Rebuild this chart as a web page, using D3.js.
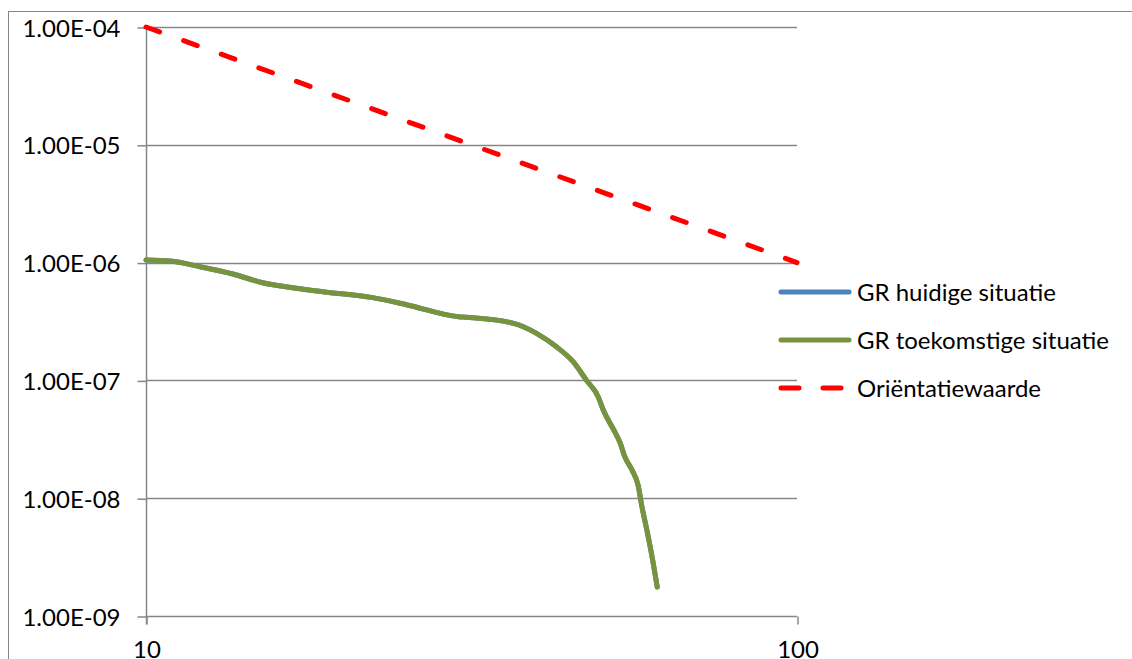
<!DOCTYPE html>
<html>
<head>
<meta charset="utf-8">
<script src="https://cdn.jsdelivr.net/npm/d3@7"></script>
<style>
  html, body { margin: 0; padding: 0; background: #fff; }
  svg { display: block; }
  text { font-family: Lato, "Open Sans", sans-serif; fill: #000; }
</style>
</head>
<body>
<svg id="chart" width="1132" height="659"></svg>
<script>
// ---- data ----
const xTickValues = [10, 100];
const xTickLabels = ["10", "100"];
const yTickValues = [1e-4, 1e-5, 1e-6, 1e-7, 1e-8, 1e-9];
const yTickLabels = ["1.00E-04", "1.00E-05", "1.00E-06", "1.00E-07", "1.00E-08", "1.00E-09"];

const seriesNames = ["GR huidige situatie", "GR toekomstige situatie", "Oriëntatiewaarde"];
const seriesColors = ["#4F81BD", "#77933C", "#FF0000"];

const grX = [10, 10.9, 12.1, 13.6, 15.1, 16.6, 18.7, 22.3, 25.2, 30.2, 31.1, 36.7, 39.8, 42.7, 45.3, 47.5, 49.5, 50.4, 52.5, 53.5, 54.4, 55.8, 57.0, 57.8, 58.8, 59.9, 61.0];
const grHuidig = [1.05e-6, 1.03e-6, 9.23e-7, 8.0e-7, 6.75e-7, 6.17e-7, 5.66e-7, 5.04e-7, 4.37e-7, 3.47e-7, 3.43e-7, 3.05e-7, 2.51e-7, 1.93e-7, 1.44e-7, 1.0e-7, 7.28e-8, 5.6e-8, 3.65e-8, 2.94e-8, 2.24e-8, 1.73e-8, 1.29e-8, 8.4e-9, 5.37e-9, 3.17e-9, 1.76e-9];
const grToekomst = [1.05e-6, 1.03e-6, 9.23e-7, 8.0e-7, 6.75e-7, 6.17e-7, 5.66e-7, 5.04e-7, 4.37e-7, 3.47e-7, 3.43e-7, 3.05e-7, 2.51e-7, 1.93e-7, 1.44e-7, 1.0e-7, 7.28e-8, 5.6e-8, 3.65e-8, 2.94e-8, 2.24e-8, 1.73e-8, 1.29e-8, 8.4e-9, 5.37e-9, 3.17e-9, 1.76e-9];

const orientX = [10, 100];
const orientY = [1e-4, 1e-6];

// ---- layout ----
const svg = d3.select("#chart");
const plot = { left: 146, right: 797, top: 27, bottom: 616 };

const x = d3.scaleLog().domain([10, 100]).range([plot.left, plot.right]);
const y = d3.scaleLog().domain([1e-9, 1e-4]).range([plot.bottom, plot.top]);

// outer chart border
svg.append("rect")
  .attr("x", 8.5).attr("y", 11.5)
  .attr("width", 1140).attr("height", 700)
  .attr("fill", "none").attr("stroke", "#868686").attr("stroke-width", 1);

// horizontal gridlines
svg.append("g").selectAll("line").data(yTickValues).join("line")
  .attr("x1", plot.left).attr("x2", plot.right)
  .attr("y1", d => Math.round(y(d)) + 0.5).attr("y2", d => Math.round(y(d)) + 0.5)
  .attr("stroke", "#868686").attr("stroke-width", 1.5);

// y axis
const yAxis = d3.axisLeft(y).tickValues(yTickValues)
  .tickFormat((d, i) => yTickLabels[i]).tickSize(9).tickPadding(17);
const gy = svg.append("g").attr("transform", `translate(${plot.left + 0.5},0.5)`).call(yAxis);
gy.select(".domain").attr("stroke", "#868686").attr("stroke-width", 1.5)
  .attr("d", `M0,${plot.top - 0.5}V${plot.bottom + 8}`);
gy.selectAll(".tick line").attr("stroke", "#868686").attr("stroke-width", 1.5);
gy.selectAll(".tick text").style("font-family", "Lato, sans-serif").style("font-size", "24px")
  .attr("dy", "0.36em");

// x axis
const xAxis = d3.axisBottom(x).tickValues(xTickValues)
  .tickFormat((d, i) => xTickLabels[i]).tickSize(8).tickPadding(16);
const gx = svg.append("g").attr("transform", `translate(0.5,${plot.bottom + 0.5})`).call(xAxis);
gx.select(".domain").remove();
gx.selectAll(".tick line").attr("stroke", "#868686").attr("stroke-width", 1.5);
gx.selectAll(".tick text").style("font-family", "Lato, sans-serif").style("font-size", "24px");

// series lines
const line = d3.line().x(d => x(d[0])).y(d => y(d[1])).curve(d3.curveMonotoneX);

svg.append("path")
  .datum(grX.map((v, i) => [v, grHuidig[i]]))
  .attr("d", line).attr("fill", "none")
  .attr("stroke", seriesColors[0]).attr("stroke-width", 5)
  .attr("stroke-linecap", "round").attr("stroke-linejoin", "round");

svg.append("path")
  .datum(grX.map((v, i) => [v, grToekomst[i]]))
  .attr("d", line).attr("fill", "none")
  .attr("stroke", seriesColors[1]).attr("stroke-width", 5)
  .attr("stroke-linecap", "round").attr("stroke-linejoin", "round");

svg.append("path")
  .datum(orientX.map((v, i) => [v, orientY[i]]))
  .attr("d", d3.line().x(d => x(d[0])).y(d => y(d[1])))
  .attr("fill", "none")
  .attr("stroke", seriesColors[2]).attr("stroke-width", 5)
  .attr("stroke-dasharray", "14.5,25.5").attr("stroke-linecap", "round");

// legend
const legendY = [292, 340, 388];
const lg = svg.append("g");
seriesNames.forEach((name, i) => {
  const row = lg.append("g");
  const ln = row.append("line").attr("x1", 781).attr("x2", 849)
    .attr("y1", legendY[i]).attr("y2", legendY[i])
    .attr("stroke", seriesColors[i]).attr("stroke-width", 5).attr("stroke-linecap", "round");
  if (i === 2) ln.attr("stroke-dasharray", "18,24");
  row.append("text").attr("x", 857).attr("y", legendY[i]).attr("dy", "0.36em")
    .style("font-size", "24px").text(name);
});
</script>
</body>
</html>
